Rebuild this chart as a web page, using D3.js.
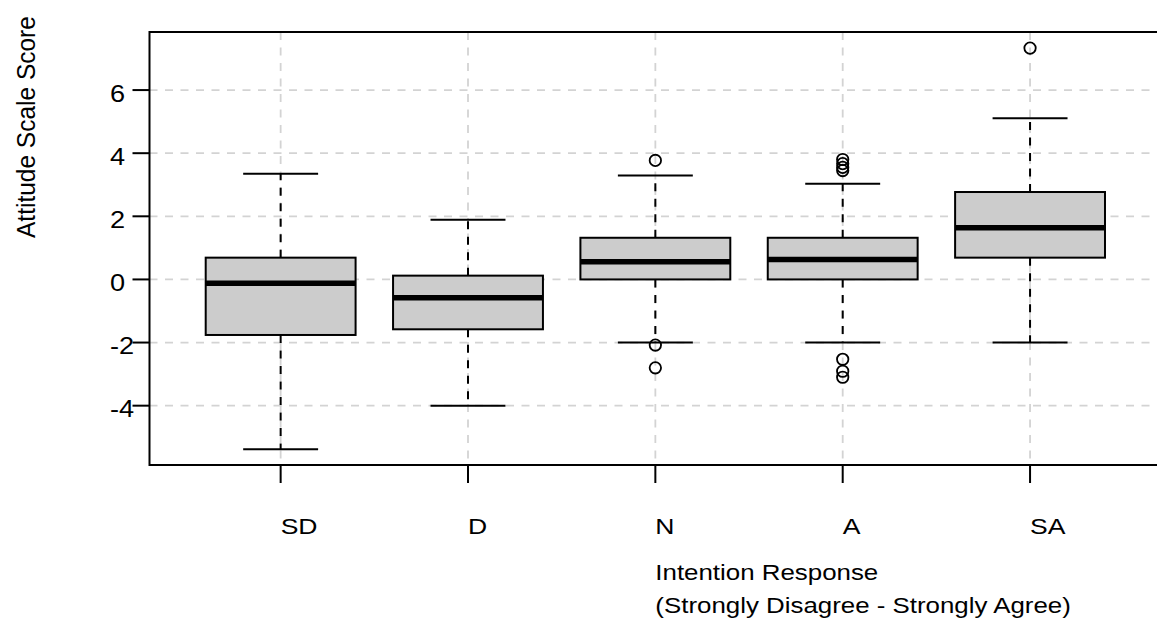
<!DOCTYPE html>
<html>
<head>
<meta charset="utf-8">
<script src="https://cdn.jsdelivr.net/npm/d3@7"></script>
<style>
  html, body { margin: 0; padding: 0; background: #fff; }
  svg text { font-family: "Liberation Sans", Arial, sans-serif; fill: #000; }
</style>
</head>
<body>
<svg id="chart" width="1157" height="626"></svg>
<script>
// ---- data ----
const categories = ["SD", "D", "N", "A", "SA"];
const lowerWhisker = [-5.38, -4.0, -2.0, -2.0, -2.0];
const q1Values     = [-1.76, -1.58, 0.0, 0.0, 0.69];
const medianValues = [-0.12, -0.58, 0.56, 0.63, 1.64];
const q3Values     = [0.69, 0.12, 1.32, 1.32, 2.77];
const upperWhisker = [3.35, 1.89, 3.29, 3.03, 5.11];
const outliers = [
  [],
  [],
  [3.77, -2.08, -2.80],
  [3.80, 3.67, 3.55, 3.45, -2.53, -2.91, -3.10],
  [7.33]
];
const yTicks = [-4, -2, 0, 2, 4, 6];
const yTickLabels = ["-4", "-2", "0", "2", "4", "6"];
const yTitle = "Attitude Scale Score";
const xTitleLines = ["Intention Response", "(Strongly Disagree - Strongly Agree)"];

// ---- layout ----
const svg = d3.select("#chart");
const xDomain = [0.3, 5.7];
const yDomain = [-5.88, 7.84];
const x = d3.scaleLinear().domain(xDomain).range([149.5, 1161.2]);
const y = d3.scaleLinear().domain(yDomain).range([465, 32]);
const pos = i => x(i + 1);
const step = x(2) - x(1);
const boxW = step * 0.8;
const capW = boxW * 0.5;

const plotL = x(xDomain[0]), plotR = x(xDomain[1]);
const plotT = y(yDomain[1]), plotB = y(yDomain[0]);

// grid
const grid = svg.append("g");
grid.selectAll("line.h").data(yTicks).join("line")
  .attr("x1", plotL).attr("x2", plotR)
  .attr("y1", d => y(d)).attr("y2", d => y(d))
  .attr("stroke", "#d3d3d3").attr("stroke-width", 1.8)
  .attr("stroke-dasharray", "8,7.5");
grid.selectAll("line.v").data(categories).join("line")
  .attr("x1", (d, i) => pos(i)).attr("x2", (d, i) => pos(i))
  .attr("y1", plotT).attr("y2", plotB)
  .attr("stroke", "#d3d3d3").attr("stroke-width", 1.8)
  .attr("stroke-dasharray", "8,7.5");

// boxes
const g = svg.append("g");
categories.forEach((c, i) => {
  const cx = pos(i);
  g.append("line").attr("x1", cx).attr("x2", cx)
    .attr("y1", y(q1Values[i])).attr("y2", y(lowerWhisker[i]))
    .attr("stroke", "#000").attr("stroke-width", 2).attr("stroke-dasharray", "8,7.5");
  g.append("line").attr("x1", cx).attr("x2", cx)
    .attr("y1", y(q3Values[i])).attr("y2", y(upperWhisker[i]))
    .attr("stroke", "#000").attr("stroke-width", 2).attr("stroke-dasharray", "8,7.5");
  [lowerWhisker[i], upperWhisker[i]].forEach(v => {
    g.append("line").attr("x1", cx - capW / 2).attr("x2", cx + capW / 2)
      .attr("y1", y(v)).attr("y2", y(v))
      .attr("stroke", "#000").attr("stroke-width", 2);
  });
  g.append("rect").attr("x", cx - boxW / 2).attr("width", boxW)
    .attr("y", y(q3Values[i])).attr("height", y(q1Values[i]) - y(q3Values[i]))
    .attr("fill", "#cccccc").attr("stroke", "#000").attr("stroke-width", 2);
  g.append("line").attr("x1", cx - boxW / 2).attr("x2", cx + boxW / 2)
    .attr("y1", y(medianValues[i])).attr("y2", y(medianValues[i]))
    .attr("stroke", "#000").attr("stroke-width", 5.5);
  g.selectAll(null).data(outliers[i]).join("circle")
    .attr("cx", cx).attr("cy", d => y(d)).attr("r", 5.7)
    .attr("fill", "none").attr("stroke", "#000").attr("stroke-width", 1.8);
});

// frame
svg.append("rect").attr("x", plotL).attr("y", plotT)
  .attr("width", plotR - plotL).attr("height", plotB - plotT)
  .attr("fill", "none").attr("stroke", "#000").attr("stroke-width", 2);

// y ticks
const yAxis = svg.append("g");
yAxis.selectAll("line").data(yTicks).join("line")
  .attr("x1", plotL - 17).attr("x2", plotL)
  .attr("y1", d => y(d)).attr("y2", d => y(d))
  .attr("stroke", "#000").attr("stroke-width", 2);
yAxis.selectAll("text").data(yTicks).join("text")
  .attr("transform", d => `translate(110,${y(d) + 11.5}) scale(1.18,1)`)
  .attr("font-size", 23)
  .text((d, i) => yTickLabels[i]);

// x ticks
const xAxis = svg.append("g");
xAxis.selectAll("line").data(categories).join("line")
  .attr("x1", (d, i) => pos(i)).attr("x2", (d, i) => pos(i))
  .attr("y1", plotB).attr("y2", plotB + 18)
  .attr("stroke", "#000").attr("stroke-width", 2);
xAxis.selectAll("text").data(categories).join("text")
  .attr("transform", (d, i) => `translate(${pos(i)},534) scale(1.18,1)`)
  .attr("font-size", 22.5)
  .text(d => d);

// x title
const xMid = (plotL + plotR) / 2;
svg.selectAll("text.xt").data(xTitleLines).join("text")
  .attr("class", "xt")
  .attr("transform", (d, i) => `translate(${xMid},${579.5 + i * 33.5}) scale(1.15,1)`)
  .attr("font-size", 22.5)
  .text(d => d);

// y title
svg.append("text")
  .attr("transform", `translate(35,238) scale(1.08,1) rotate(-90)`)
  .attr("font-size", 24.5)
  .text(yTitle);
</script>
</body>
</html>
